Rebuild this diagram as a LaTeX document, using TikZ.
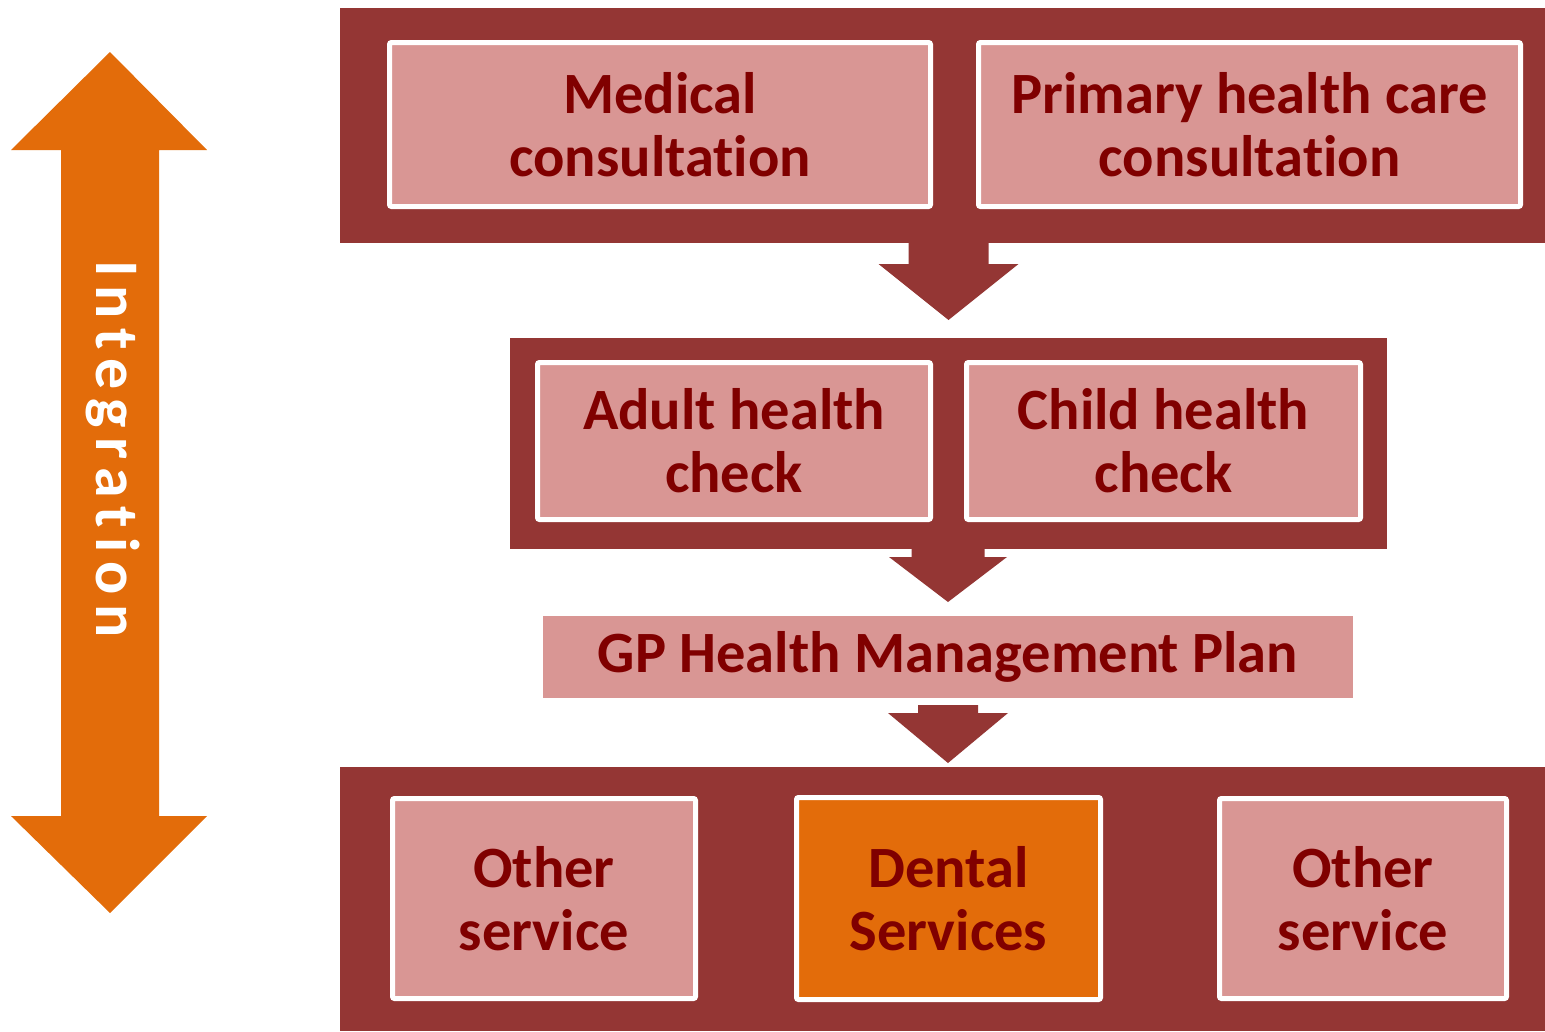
\documentclass[tikz,border=0pt]{standalone}
\usepackage{fontspec}
\setmainfont[Ligatures=NoCommon]{Carlito}
\usetikzlibrary{calc}
\definecolor{panelred}{HTML}{943634}
\definecolor{boxpink}{HTML}{D99694}
\definecolor{txtred}{HTML}{800000}
\definecolor{orng}{HTML}{E36C0A}
\newcommand\blockarrow[5]{%
  \fill[panelred] ($(#1)+(-#2,-1)$) -- ($(#1)+(-#2,#3)$) -- ($(#1)+(-#4,#3)$) -- ($(#1)+(0,#5)$)
    -- ($(#1)+(#4,#3)$) -- ($(#1)+(#2,#3)$) -- ($(#1)+(#2,-1)$) -- cycle;}
\begin{document}
\begin{tikzpicture}[x=1pt,y=-1pt,
  panel/.style={fill=panelred, inner sep=0pt, outer sep=0pt},
  card/.style={fill=boxpink, draw=white, line width=5pt, rounded corners=2pt, inner sep=0pt, outer sep=0pt,
    align=center, text=txtred, font=\fontsize{58.5}{63}\selectfont\bfseries},
  flat/.style={fill=boxpink, inner sep=0pt, outer sep=0pt, align=center, text=txtred,
    font=\fontsize{58.5}{63}\selectfont\bfseries}]
\useasboundingbox (0,0) rectangle (1545,1031);
% panels
\node[panel, minimum width=1205pt, minimum height=235pt] (top) at (942.5,125.5) {};
\node[panel, minimum width=877pt, minimum height=211pt] (mid) at (948.5,443.5) {};
\node[panel, minimum width=1205pt, minimum height=264pt] (bot) at (942.5,899) {};
% cards
\node[card, minimum width=541pt, minimum height=164pt] (med) at (660,124.5) {Medical\\consultation};
\node[card, minimum width=542pt, minimum height=164pt] (phc) at (1249.5,124.5) {Primary health care\\consultation};
\node[card, minimum width=393pt, minimum height=157pt] (adult) at (734,441) {Adult health\\check};
\node[card, minimum width=394pt, minimum height=157pt] (child) at (1163.5,441) {Child health\\check};
\node[flat, minimum width=810pt, minimum height=82pt] (gp) at (948,657) {GP Health Management Plan};
\node[card, minimum width=303pt, minimum height=200pt] (oth1) at (544,898.5) {Other\\service};
\node[card, fill=orng, minimum width=304pt, minimum height=202pt] (dent) at (948.5,898.5) {Dental\\Services};
\node[card, minimum width=287pt, minimum height=200pt] (oth2) at (1363,898.5) {Other\\service};
% block arrows
\coordinate (a1) at (top.south -| mid.north);
\blockarrow{a1}{40}{21}{70}{77}
\coordinate (a2) at (mid.south -| gp.north);
\blockarrow{a2}{36.5}{8}{59}{53}
\coordinate (a3) at ($(gp.south)+(0,7)$);
\fill[panelred] ($(a3)+(-30,0)$) -- ($(a3)+(-30,8)$) -- ($(a3)+(-60,8)$) -- ($(a3)+(0,58)$)
  -- ($(a3)+(60,8)$) -- ($(a3)+(30,8)$) -- ($(a3)+(30,0)$) -- cycle;
% integration arrow
\fill[orng] (110,52) -- (207,150) -- (159,150) -- (159,816) -- (207,816) -- (110,913)
  -- (11,816) -- (61,816) -- (61,150) -- (11,150) -- cycle;
\node[rotate=-90, text=white, inner sep=0pt, font=\fontsize{62}{62}\selectfont\bfseries\addfontfeature{LetterSpace=15}] (integ) at (113,449) {Integration};
\end{tikzpicture}
\end{document}
